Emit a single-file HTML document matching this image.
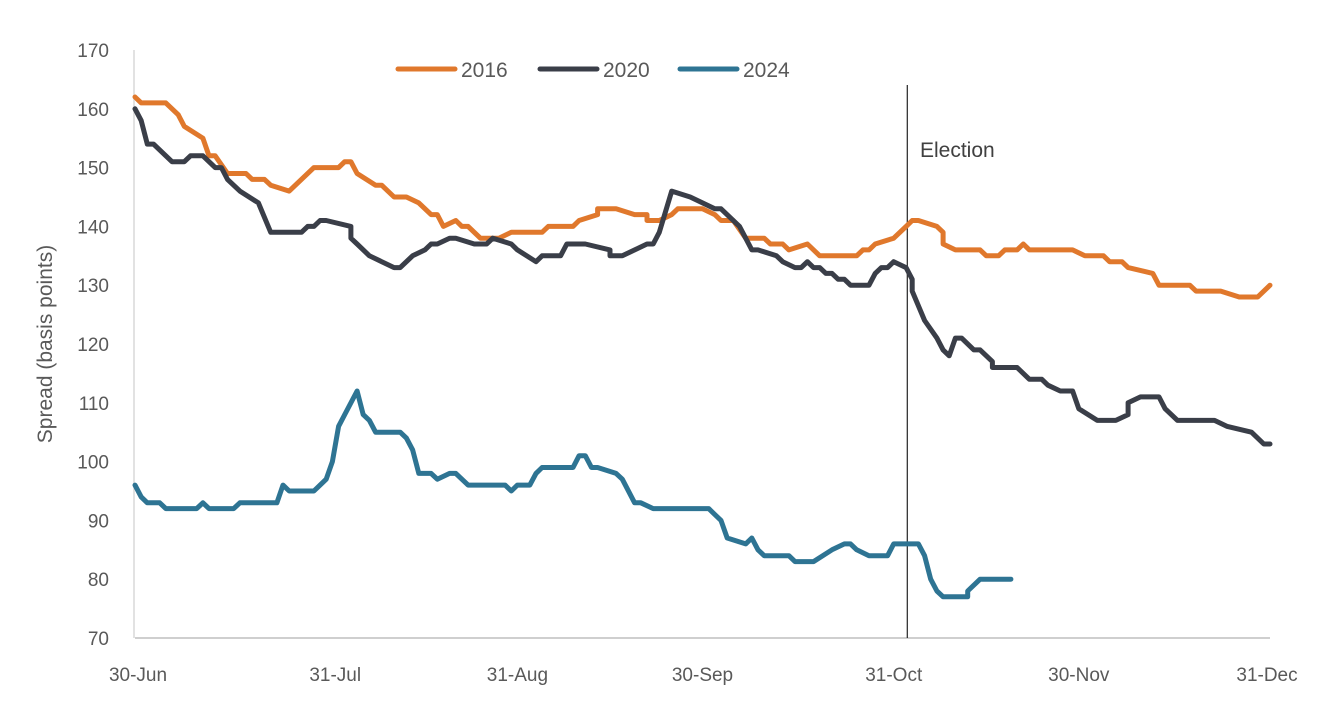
<!DOCTYPE html>
<html><head><meta charset="utf-8"><style>
body{margin:0;background:#fff;}
svg{display:block;font-family:"Liberation Sans",sans-serif;}
</style></head><body>
<svg id="chart" width="1322" height="710" xmlns="http://www.w3.org/2000/svg"></svg>
<script>
const yTicks=[70,80,90,100,110,120,130,140,150,160,170];
const xTickDays=[0,31,62,92,123,153,184];
const xTickLabels=["30-Jun","31-Jul","31-Aug","30-Sep","31-Oct","30-Nov","31-Dec"];
const electionDay=125.2;
const seriesNames=["2016","2020","2024"];
const days2016=[0,1,5,7,8,11,12,13,15,18,19,21,22,25,29,33,34,35,36,39,40,42,44,46,48,49,50,52,53,54,56,59,61,66,67,71,72,75,75,78,81,83,83,85,87,88,92,94,95,97,99,102,103,105,106,109,111,117,118,119,120,123,125,126,127,130,131,131,133,137,138,140,141,143,144,145,152,154,157,158,160,161,161,165,166,171,172,176,179,182,184];
const vals2016=[162,161,161,159,157,155,152,152,149,149,148,148,147,146,150,150,151,151,149,147,147,145,145,144,142,142,140,141,140,140,138,138,139,139,140,140,141,142,143,143,142,142,141,141,142,143,143,142,141,141,138,138,137,137,136,137,135,135,136,136,137,138,140,141,141,140,139,137,136,136,135,135,136,136,137,136,136,135,135,134,134,133,133,132,130,130,129,129,128,128,130];
const days2020=[0,1,2,3,6,8,9,11,13,14,15,17,20,22,27,28,29,30,31,35,35,36,38,42,43,45,47,48,49,51,52,55,57,58,61,62,65,66,69,70,73,77,77,79,83,84,85,87,90,92,92,94,95,98,99,100,101,104,105,107,108,109,110,111,112,113,114,115,116,119,120,121,122,123,125,126,126,128,130,131,131,132,133,134,136,137,139,139,143,145,147,148,150,152,153,156,159,161,161,163,166,167,169,175,177,181,183,184];
const vals2020=[160,158,154,154,151,151,152,152,150,150,148,146,144,139,139,140,140,141,141,140,138,137,135,133,133,135,136,137,137,138,138,137,137,138,137,136,134,135,135,137,137,136,135,135,137,137,139,146,145,144,144,143,143,140,138,136,136,135,134,133,133,134,133,133,132,132,131,131,130,130,132,133,133,134,133,131,129,124,121,119,119,118,121,121,119,119,117,116,116,114,114,113,112,112,109,107,107,108,110,111,111,109,107,107,106,105,103,103];
const days2024=[0,1,2,4,5,10,11,12,16,17,22,23,24,25,29,30,31,32,33,34,36,37,38,39,43,44,45,46,48,49,51,52,54,60,61,62,64,65,66,71,72,73,74,75,78,79,81,82,84,93,94,95,96,99,100,101,102,106,107,110,113,113,115,116,117,119,122,123,127,128,129,130,131,135,135,137,142];
const vals2024=[96,94,93,93,92,92,93,92,92,93,93,93,96,95,95,96,97,100,106,108,112,108,107,105,105,104,102,98,98,97,98,98,96,96,95,96,96,98,99,99,101,101,99,99,98,97,93,93,92,92,91,90,87,86,87,85,84,84,83,83,85,85,86,86,85,84,84,86,86,84,80,78,77,77,78,80,80];
const colors=["#E0782C","#3A3E48","#2E7493"];

const NS="http://www.w3.org/2000/svg";
const svg=document.getElementById("chart");
const X0=135,X1=1270,Y0=638,Y1=50;
const xs=d=>X0+(d/184)*(X1-X0);
const ys=v=>Y0-(v-70)/100*(Y0-Y1);
function mk(t,a,p){const e=document.createElementNS(NS,t);for(const k in a)e.setAttribute(k,a[k]);(p||svg).appendChild(e);return e;}

let e=mk("line",{x1:X0-1,x2:X0-1,y1:Y1,y2:Y0,stroke:"#d9d9d9","stroke-width":1.5});


e=mk("line",{x1:X0,x2:X1,y1:Y0,y2:Y0,stroke:"#bfbfbf","stroke-width":1.5});



const xLabelNudge=[3,9,0,0,0,0,-3];
yTicks.forEach(v=>{
  const t=mk("text",{x:109,y:ys(v)+7,"text-anchor":"end","font-size":19,fill:"#595959"});
  t.textContent=v;
  
  
});
xTickDays.forEach((d,i)=>{
  const t=mk("text",{x:xs(d)+xLabelNudge[i],y:681,"text-anchor":"middle","font-size":19,fill:"#595959"});
  t.textContent=xTickLabels[i];
  
  
});
e=mk("text",{x:52,y:344,"text-anchor":"middle","font-size":21,fill:"#595959",transform:"rotate(-90 52 344)"});
e.textContent="Spread (basis points)";



e=mk("line",{x1:xs(electionDay),x2:xs(electionDay),y1:85,y2:638,stroke:"#222","stroke-width":1.2});


e=mk("text",{x:920,y:157,"font-size":21,fill:"#404040"});
e.textContent="Election";



const allDays=[days2016,days2020,days2024],allVals=[vals2016,vals2020,vals2024];
allDays.forEach((ds,s)=>{
  const pts=ds.map((d,i)=>xs(d).toFixed(1)+","+ys(allVals[s][i]).toFixed(1)).join(" ");
  const p=mk("polyline",{points:pts,fill:"none",stroke:colors[s],"stroke-width":5,"stroke-linejoin":"round","stroke-linecap":"round"});
  
  
});

const legX=[398,540,680];
seriesNames.forEach((n,i)=>{
  const l=mk("line",{x1:legX[i],x2:legX[i]+57,y1:69,y2:69,stroke:colors[i],"stroke-width":5,"stroke-linecap":"round"});
  
  
  const t=mk("text",{x:legX[i]+63,y:77,"font-size":21,fill:"#595959"});
  t.textContent=n;
  
  
});
</script>
</body></html>
